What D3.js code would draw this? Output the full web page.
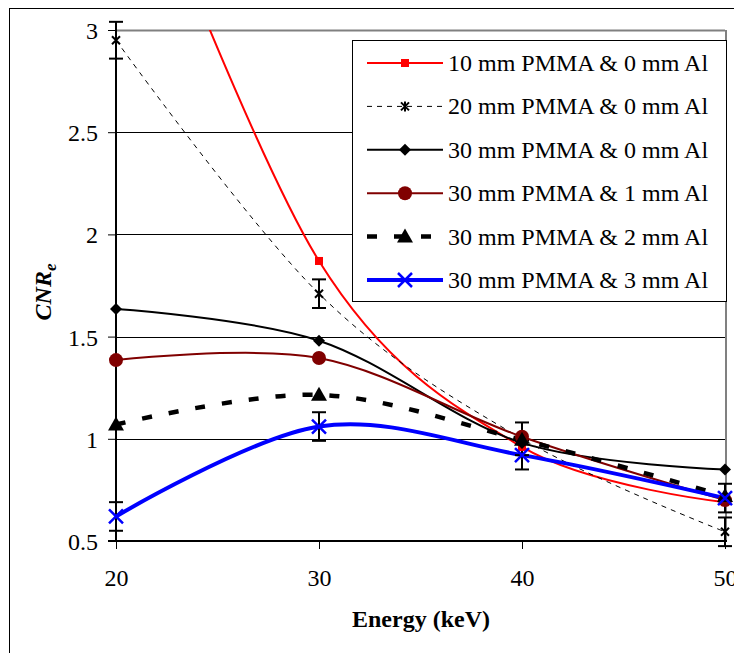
<!DOCTYPE html>
<html>
<head>
<meta charset="utf-8">
<script src="https://cdn.jsdelivr.net/npm/d3@7"></script>
<style>
  body { margin: 0; background: #fff; }
  svg { display: block; font-family: "Liberation Serif", "Times New Roman", serif; }
</style>
</head>
<body>
<div id="chart"></div>
<script>
// Data
const energies = [20, 30, 40, 50];
const yTicks = [0.5, 1, 1.5, 2, 2.5, 3];
const seriesNames = [
  "10 mm PMMA & 0 mm Al",
  "20 mm PMMA & 0 mm Al",
  "30 mm PMMA & 0 mm Al",
  "30 mm PMMA & 1 mm Al",
  "30 mm PMMA & 2 mm Al",
  "30 mm PMMA & 3 mm Al"
];
const pmma10al0 = [4.15, 1.87, 0.96, 0.69];
const pmma20al0 = [2.95, 1.71, 1.0, 0.545];
const pmma30al0 = [1.635, 1.48, 0.98, 0.85];
const pmma30al1 = [1.385, 1.395, 1.01, 0.70];
const pmma30al2 = [1.07, 1.215, 0.995, 0.72];
const pmma30al3 = [0.62, 1.06, 0.92, 0.71];
const err20al0 = [0.09, 0.07, 0.08, 0.07];
const err30al3 = [0.07, 0.07, 0.07, 0.07];

const values = [pmma10al0, pmma20al0, pmma30al0, pmma30al1, pmma30al2, pmma30al3];
const errors = [null, err20al0, null, null, null, err30al3];

// Styles for each series
const styles = [
  { color: "#ff0000", width: 2, dash: null, marker: "square" },
  { color: "#000000", width: 1, dash: "5,5", marker: "star" },
  { color: "#000000", width: 2, dash: null, marker: "diamond" },
  { color: "#800000", width: 2, dash: null, marker: "circle" },
  { color: "#000000", width: 4.5, dash: "10,17", marker: "triangle" },
  { color: "#0000ff", width: 4, dash: null, marker: "x" }
];

const width = 734, height = 653;
const plot = { left: 116, right: 725, top: 30, bottom: 541 };

const svg = d3.select("#chart").append("svg")
  .attr("width", width)
  .attr("height", height);

// outer chart border
svg.append("rect")
  .attr("x", 9.5).attr("y", 8.5)
  .attr("width", 740).attr("height", 660)
  .attr("fill", "none").attr("stroke", "#000").attr("stroke-width", 1);

const x = d3.scaleLinear().domain([20, 50]).range([plot.left, plot.right]);
const y = d3.scaleLinear().domain([0.5, 3]).range([plot.bottom, plot.top]);

// gridlines
svg.append("g")
  .selectAll("line")
  .data(yTicks.slice(1))
  .enter().append("line")
  .attr("x1", plot.left).attr("x2", plot.right)
  .attr("y1", d => Math.round(y(d)) + 0.5).attr("y2", d => Math.round(y(d)) + 0.5)
  .attr("stroke", d => d === 3 ? "#808080" : "#000")
  .attr("stroke-width", d => d === 3 ? 2 : 1);

// plot area right edge
svg.append("line")
  .attr("x1", plot.right + 1).attr("x2", plot.right + 1)
  .attr("y1", plot.top).attr("y2", plot.bottom)
  .attr("stroke", "#808080").attr("stroke-width", 2);

// axes
const yAxis = d3.axisLeft(y).tickValues(yTicks).tickSize(8).tickPadding(10)
  .tickFormat(d3.format("~g"));
const xAxis = d3.axisBottom(x).tickValues(energies).tickSize(8).tickPadding(20);

const gy = svg.append("g").attr("transform", `translate(${plot.left},0)`).call(yAxis);
const gx = svg.append("g").attr("transform", `translate(0,${plot.bottom})`).call(xAxis);

[gy, gx].forEach(g => {
  g.select(".domain").attr("stroke", "#000").attr("stroke-width", 2);
  g.selectAll(".tick line").attr("stroke", "#000").attr("stroke-width", 1);
  g.selectAll(".tick text")
    .attr("font-size", 24)
    .attr("fill", "#000")
    .attr("font-family", "Liberation Serif, Times New Roman, serif");
});
gy.select(".domain").attr("d", `M-8,${plot.bottom}H0V${plot.top - 2}`);
gx.select(".domain").attr("d", `M${plot.left},0H${plot.right + 2}`);
gy.selectAll(".tick text").attr("dy", "0.35em");

// axis titles
svg.append("text")
  .attr("x", 421).attr("y", 627)
  .attr("text-anchor", "middle")
  .attr("font-size", 24).attr("font-weight", "bold")
  .text("Energy (keV)");

const yTitle = svg.append("text")
  .attr("transform", "translate(51,292) rotate(-90)")
  .attr("text-anchor", "middle")
  .attr("font-size", 24).attr("font-weight", "bold").attr("font-style", "italic");
yTitle.append("tspan").text("CNR");
yTitle.append("tspan").attr("font-size", 17).attr("dy", 5).text("e");

// clip for the plot area
svg.append("clipPath").attr("id", "plotclip")
  .append("rect")
  .attr("x", plot.left - 10).attr("y", plot.top)
  .attr("width", plot.right - plot.left + 20)
  .attr("height", plot.bottom - plot.top + 10);

const line = d3.line()
  .x(d => x(d.e))
  .y(d => y(d.v))
  .curve(d3.curveCardinal.tension(0));

const seriesData = values.map((vals, i) => ({
  name: seriesNames[i],
  style: styles[i],
  err: errors[i],
  points: energies.map((e, j) => ({ e: e, v: vals[j], err: errors[i] ? errors[i][j] : null }))
}));

// marker drawing
function drawMarker(g, type, color, cx, cy) {
  if (type === "square") {
    g.append("rect").attr("x", cx - 4).attr("y", cy - 4).attr("width", 8).attr("height", 8)
      .attr("fill", color);
  } else if (type === "star") {
    const s = 4;
    g.append("path")
      .attr("d", `M${cx - s},${cy - s}L${cx + s},${cy + s}M${cx - s},${cy + s}L${cx + s},${cy - s}M${cx},${cy - s - 1}L${cx},${cy + s + 1}`)
      .attr("stroke", color).attr("stroke-width", 2).attr("fill", "none");
  } else if (type === "diamond") {
    g.append("path")
      .attr("d", `M${cx},${cy - 6}L${cx + 6},${cy}L${cx},${cy + 6}L${cx - 6},${cy}Z`)
      .attr("fill", color);
  } else if (type === "circle") {
    g.append("circle").attr("cx", cx).attr("cy", cy).attr("r", 7).attr("fill", color);
  } else if (type === "triangle") {
    g.append("path")
      .attr("d", `M${cx},${cy - 8}L${cx + 8},${cy + 6}L${cx - 8},${cy + 6}Z`)
      .attr("fill", color);
  } else if (type === "x") {
    const s = 7;
    g.append("path")
      .attr("d", `M${cx - s},${cy - s}L${cx + s},${cy + s}M${cx - s},${cy + s}L${cx + s},${cy - s}`)
      .attr("stroke", color).attr("stroke-width", 2.5).attr("fill", "none");
  }
}

const plotG = svg.append("g").attr("clip-path", "url(#plotclip)");

seriesData.forEach(s => {
  plotG.append("path")
    .datum(s.points)
    .attr("d", line)
    .attr("fill", "none")
    .attr("stroke", s.style.color)
    .attr("stroke-width", s.style.width)
    .attr("stroke-dasharray", s.style.dash);
});

// error bars (not clipped, like the original)
const errG = svg.append("g").attr("stroke", "#000").attr("stroke-width", 2);
seriesData.filter(s => s.err).forEach(s => {
  s.points.forEach(p => {
    const px = x(p.e);
    const y1 = y(p.v + p.err), y2 = y(p.v - p.err);
    errG.append("line").attr("x1", px).attr("x2", px).attr("y1", y1).attr("y2", y2);
    errG.append("line").attr("x1", px - 7).attr("x2", px + 7).attr("y1", y1).attr("y2", y1);
    errG.append("line").attr("x1", px - 7).attr("x2", px + 7).attr("y1", y2).attr("y2", y2);
  });
});

// markers
const markG = svg.append("g").attr("clip-path", "url(#plotclip)");
seriesData.forEach(s => {
  s.points.forEach(p => {
    drawMarker(markG, s.style.marker, s.style.color, x(p.e), y(p.v));
  });
});

// legend
const legend = svg.append("g");
legend.append("rect")
  .attr("x", 352.5).attr("y", 40.5)
  .attr("width", 374).attr("height", 261)
  .attr("fill", "#fff").attr("stroke", "#000").attr("stroke-width", 1);

seriesData.forEach((s, i) => {
  const ly = 63 + i * 43.4;
  legend.append("line")
    .attr("x1", 367).attr("x2", 443)
    .attr("y1", ly).attr("y2", ly)
    .attr("stroke", s.style.color)
    .attr("stroke-width", s.style.width)
    .attr("stroke-dasharray", s.style.dash);
  drawMarker(legend, s.style.marker, s.style.color, 405, ly);
  legend.append("text")
    .attr("x", 448).attr("y", ly + 8)
    .attr("font-size", 24)
    .text(s.name);
});
</script>
</body>
</html>
